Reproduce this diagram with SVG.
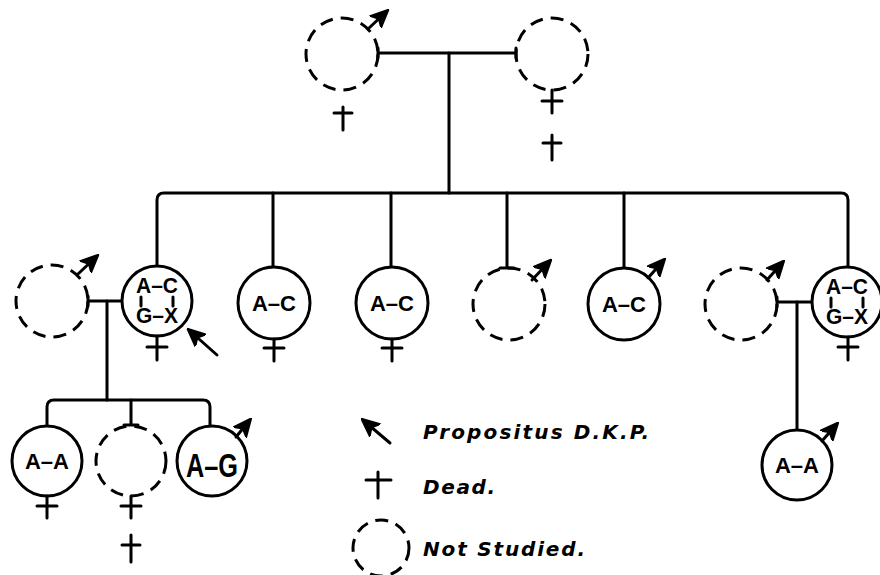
<svg xmlns="http://www.w3.org/2000/svg" width="880" height="575" viewBox="0 0 880 575">
  <defs>
    <style>
      .ln { fill: none; stroke: #000; stroke-width: 3; stroke-linecap: round; stroke-linejoin: round; }
      .solid { fill: #fff; stroke: #000; stroke-width: 3; }
      .dash { fill: none; stroke: #000; stroke-width: 3; stroke-dasharray: 13 8; }
      .lbl { font-family: "Liberation Sans", Arial, sans-serif; font-weight: bold; font-size: 22px; text-anchor: middle; }
      .key { font-family: "DejaVu Sans", "Liberation Sans", sans-serif; font-weight: bold; font-style: italic; font-size: 20px; }
    </style>
    <marker id="ah" viewBox="0 0 10 10" refX="8" refY="5" markerWidth="18" markerHeight="18" orient="auto" markerUnits="userSpaceOnUse">
      <path d="M0,0.5 L10,5 L0,9.5 L2.5,5 z" fill="#000" stroke="#000" stroke-width="1" stroke-linejoin="round"/>
    </marker>
  </defs>

  <!-- connectors -->
  <g id="connectors" class="ln">
    <!-- generation I mating and descent -->
    <path d="M378,53 H516 M378,48 V58 M516,48 V58"/>
    <path d="M449,53 V193"/>
    <!-- generation II sibship -->
    <path d="M157,266 V200 Q157,193 164,193 H841 Q848,193 848,200 V267"/>
    <path d="M273,193 V268 M391,193 V268 M507,193 V268 M500,268 H514 M624,193 V268"/>
    <!-- left mating (II-1 x II-2) -->
    <path d="M88,301 H121 M88,296 V306"/>
    <path d="M107,301 V400"/>
    <!-- generation III sibship (left) -->
    <path d="M47,426 V407 Q47,400 54,400 H203 Q210,400 210,407 V427"/>
    <path d="M131,400 V425 M124,425 H138"/>
    <!-- right mating (II-7 x II-8) -->
    <path d="M777,302 H812 M777,297 V307"/>
    <path d="M797,302 V430"/>
  </g>

  <!-- generation I -->
  <g id="I-1">
    <circle class="dash" cx="342" cy="54" r="36"/>
    <line class="ln" x1="368" y1="29" x2="386" y2="12" marker-end="url(#ah)"/>
    <path class="ln" d="M343,107 V130 M334,113 H352"/>
  </g>
  <g id="I-2">
    <circle class="dash" cx="552" cy="54" r="36"/>
    <path class="ln" d="M552,90 V113 M542,101 H562"/>
    <path class="ln" d="M552,135 V160 M543,143 H561"/>
  </g>

  <!-- generation II -->
  <g id="II-1">
    <circle class="dash" cx="52" cy="301" r="36"/>
    <line class="ln" x1="78" y1="274" x2="96" y2="257" marker-end="url(#ah)"/>
  </g>
  <g id="II-2">
    <circle class="solid" cx="157" cy="301" r="35"/>
    <text class="lbl" x="157" y="293" textLength="42" lengthAdjust="spacingAndGlyphs">A–C</text>
    <text class="lbl" x="157" y="323" textLength="42" lengthAdjust="spacingAndGlyphs">G–X</text>
    <path class="ln" d="M141,297 V306 M173,297 V306"/>
    <path class="ln" d="M157,336 V360 M147,347 H167"/>
    <line class="ln" x1="217" y1="355" x2="190" y2="331" marker-end="url(#ah)"/>
  </g>
  <g id="II-3">
    <circle class="solid" cx="274" cy="303" r="36"/>
    <text class="lbl" x="274" y="311">A–C</text>
    <path class="ln" d="M274,339 V361 M264,348 H284"/>
  </g>
  <g id="II-4">
    <circle class="solid" cx="392" cy="303" r="36"/>
    <text class="lbl" x="392" y="311">A–C</text>
    <path class="ln" d="M392,339 V361 M382,348 H402"/>
  </g>
  <g id="II-5">
    <circle class="dash" cx="509" cy="304" r="36"/>
    <line class="ln" x1="532" y1="280" x2="549" y2="262" marker-end="url(#ah)"/>
  </g>
  <g id="II-6">
    <circle class="solid" cx="624" cy="304" r="36"/>
    <text class="lbl" x="624" y="312">A–C</text>
    <line class="ln" x1="648" y1="278" x2="663" y2="261" marker-end="url(#ah)"/>
  </g>
  <g id="II-7">
    <circle class="dash" cx="741" cy="304" r="36"/>
    <line class="ln" x1="767" y1="280" x2="782" y2="263" marker-end="url(#ah)"/>
  </g>
  <g id="II-8">
    <circle class="solid" cx="847" cy="302" r="35"/>
    <text class="lbl" x="847" y="294" textLength="42" lengthAdjust="spacingAndGlyphs">A–C</text>
    <text class="lbl" x="847" y="324" textLength="42" lengthAdjust="spacingAndGlyphs">G–X</text>
    <path class="ln" d="M831,298 V307 M863,298 V307"/>
    <path class="ln" d="M848,337 V360 M838,347 H858"/>
  </g>

  <!-- generation III -->
  <g id="III-1">
    <circle class="solid" cx="47" cy="461" r="35"/>
    <text class="lbl" x="47" y="469">A–A</text>
    <path class="ln" d="M47,496 V518 M37,506 H57"/>
  </g>
  <g id="III-2">
    <circle class="dash" cx="131" cy="461" r="35"/>
    <path class="ln" d="M131,496 V518 M121,506 H141"/>
    <path class="ln" d="M131,535 V562 M122,545 H140"/>
  </g>
  <g id="III-3">
    <circle class="solid" cx="212" cy="461" r="35" stroke-width="3.5"/>
    <text class="lbl" x="212" y="477" style="font-size: 33px;" textLength="52" lengthAdjust="spacingAndGlyphs">A–G</text>
    <line class="ln" x1="236" y1="437" x2="249" y2="421" marker-end="url(#ah)"/>
  </g>
  <g id="III-4">
    <circle class="solid" cx="797" cy="465" r="35"/>
    <text class="lbl" x="797" y="473">A–A</text>
    <line class="ln" x1="822" y1="441" x2="836" y2="425" marker-end="url(#ah)"/>
  </g>

  <!-- key -->
  <g id="key">
    <line class="ln" x1="390" y1="443" x2="364" y2="421" marker-end="url(#ah)"/>
    <text class="key" x="423" y="439" textLength="226" lengthAdjust="spacing">Propositus D.K.P.</text>
    <path class="ln" d="M378,472 V498 M366,480 H391"/>
    <text class="key" x="423" y="494" textLength="72" lengthAdjust="spacing">Dead.</text>
    <circle class="dash" cx="381" cy="548" r="28"/>
    <text class="key" x="423" y="556" textLength="162" lengthAdjust="spacing">Not Studied.</text>
  </g>
</svg>
